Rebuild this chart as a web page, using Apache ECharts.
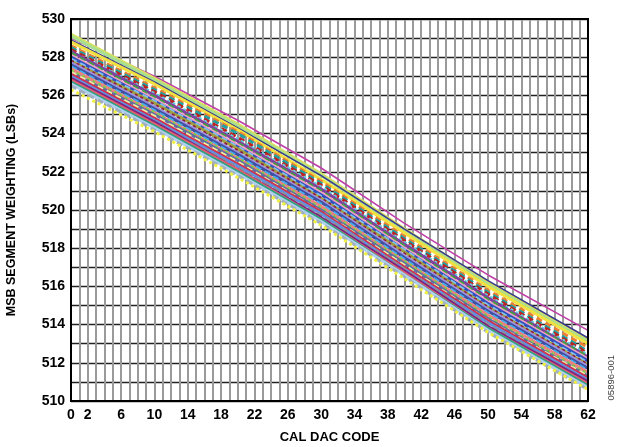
<!DOCTYPE html>
<html>
<head>
<meta charset="utf-8">
<script src="https://cdn.jsdelivr.net/npm/echarts@6/dist/echarts.min.js"></script>
<style>
html,body{margin:0;padding:0;background:#fff;}
#c{width:624px;height:447px;}
</style>
</head>
<body>
<div id="c"></div>
<script>
// CAL DAC codes at which values were read
var codes = [0, 10, 20, 30, 40, 50, 62];

var s01 = [529.0, 527.0, 524.7, 522.2, 519.3, 516.6, 513.7];
var s02 = [529.2, 526.9, 524.5, 521.9, 519.0, 516.2, 513.2];
var s03 = [529.1, 526.8, 524.4, 521.8, 518.9, 516.1, 513.1];
var s04 = [528.9, 526.7, 524.3, 521.8, 519.0, 516.3, 513.3];
var s05 = [528.8, 526.6, 524.2, 521.6, 518.8, 516.0, 513.0];
var s06 = [528.6, 526.4, 524.1, 521.5, 518.6, 515.8, 512.8];
var s07 = [528.5, 526.3, 524.0, 521.4, 518.5, 515.7, 512.6];
var s08 = [528.4, 526.2, 523.8, 521.3, 518.4, 515.6, 512.5];
var s09 = [528.3, 526.1, 523.7, 521.2, 518.3, 515.5, 512.4];
var s10 = [528.3, 526.0, 523.6, 521.1, 518.2, 515.4, 512.3];
var s11 = [528.2, 525.9, 523.5, 521.0, 518.1, 515.3, 512.3];
var s12 = [528.1, 525.8, 523.4, 520.9, 518.0, 515.2, 512.2];
var s13 = [528.0, 525.7, 523.3, 520.8, 517.9, 515.1, 512.1];
var s14 = [527.9, 525.7, 523.3, 520.7, 517.9, 515.0, 512.0];
var s15 = [527.8, 525.6, 523.2, 520.6, 517.8, 514.9, 511.9];
var s16 = [527.8, 525.5, 523.1, 520.6, 517.7, 514.9, 511.9];
var s17 = [527.7, 525.4, 523.0, 520.5, 517.6, 514.8, 511.8];
var s18 = [527.6, 525.3, 522.9, 520.4, 517.5, 514.7, 511.7];
var s19 = [527.5, 525.2, 522.8, 520.3, 517.4, 514.6, 511.6];
var s20 = [527.4, 525.1, 522.7, 520.2, 517.3, 514.5, 511.5];
var s21 = [527.3, 525.1, 522.7, 520.1, 517.3, 514.4, 511.4];
var s22 = [527.2, 525.0, 522.6, 520.0, 517.2, 514.3, 511.3];
var s23 = [527.2, 524.9, 522.5, 519.9, 517.1, 514.2, 511.3];
var s24 = [527.1, 524.8, 522.4, 519.9, 517.0, 514.2, 511.2];
var s25 = [527.0, 524.7, 522.3, 519.8, 516.9, 514.1, 511.1];
var s26 = [526.9, 524.6, 522.2, 519.7, 516.9, 514.0, 511.0];
var s27 = [526.9, 524.6, 522.1, 519.6, 516.8, 513.9, 511.0];
var s28 = [526.8, 524.5, 522.1, 519.5, 516.7, 513.8, 510.9];
var s29 = [526.7, 524.4, 522.0, 519.5, 516.6, 513.8, 510.8];
var s30 = [526.6, 524.3, 521.9, 519.4, 516.6, 513.7, 510.7];
var s31 = [526.5, 524.2, 521.8, 519.3, 516.5, 513.6, 510.6];
var s32 = [526.3, 524.1, 521.7, 519.2, 516.4, 513.6, 510.6];

var seriesData = [s01,s02,s03,s04,s05,s06,s07,s08,s09,s10,s11,s12,s13,s14,s15,s16,
                  s17,s18,s19,s20,s21,s22,s23,s24,s25,s26,s27,s28,s29,s30,s31,s32];
var seriesColors = ['#c040a8','#d8e060','#a8e090','#3a3a90','#f0e040','#f08030','#20a0a0','#c02020',
                    '#60d0e0','#8040a0','#40a040','#f0a0c0','#3050c0','#80c0f0','#a0a040','#902040',
                    '#a090e0','#4050a0','#40b0f0','#f08080','#80d040','#6070a0','#f0f0a0','#d03050',
                    '#6090e0','#909090','#802080','#e06070','#30a080','#b0d0f0','#a0b0c0','#f0f040'];
var seriesDash = ['solid','solid','solid','solid','solid','dashed','dashed','dashed',
                  'dotted','solid','dashed','solid','solid','dashed','solid','dotted',
                  'solid','solid','dashed','solid','dotted','solid','dashed','solid',
                  'solid','dashed','solid','solid','solid','solid','dashed','dotted'];

var yTickLabels = ['510','512','514','516','518','520','522','524','526','528','530'];
var xTickLabels = ['0','2','6','10','14','18','22','26','30','34','38','42','46','50','54','58','62'];

var FONT = 'Liberation Sans, Arial, sans-serif';

var series = seriesData.map(function (arr, i) {
  var thin = (i === 0 || i === 3);
  return {
    type: 'line',
    data: codes.map(function (c, j) { return [c, arr[j]]; }),
    showSymbol: false,
    symbol: 'none',
    lineStyle: {
      color: seriesColors[i],
      width: thin ? 1.6 : 3,
      type: seriesDash[i] === 'dashed' ? [6, 4] : (seriesDash[i] === 'dotted' ? [3, 3] : 'solid')
    },
    z: 3
  };
});

var chart = echarts.init(document.getElementById('c'), null, { renderer: 'canvas' });
chart.setOption({
  animation: false,
  backgroundColor: '#fff',
  grid: { left: 71, right: 36, top: 19, bottom: 46, outerBoundsMode: 'none', containLabel: false,
          show: true, borderColor: '#000', borderWidth: 2, backgroundColor: 'transparent', z: 5 },
  xAxis: {
    type: 'value', min: 0, max: 62, interval: 1,
    name: 'CAL DAC CODE', nameLocation: 'middle', nameGap: 30,
    nameTextStyle: { fontFamily: FONT, fontWeight: 'bold', fontSize: 13, color: '#000' },
    axisLine: { show: true, lineStyle: { color: '#000', width: 2 } },
    axisTick: { show: false },
    axisLabel: {
      fontFamily: FONT, fontWeight: 'bold', fontSize: 14, color: '#000', margin: 7,
      formatter: function (v) { var s = String(v); return xTickLabels.indexOf(s) >= 0 ? s : ''; }
    },
    splitLine: { show: true, lineStyle: { color: '#9a9a9a', width: 2 } }
  },
  yAxis: {
    type: 'value', min: 510, max: 530, interval: 1,
    name: 'MSB SEGMENT WEIGHTING (LSBs)', nameLocation: 'middle', nameGap: 53,
    nameTextStyle: { fontFamily: FONT, fontWeight: 'bold', fontSize: 12.5, color: '#000' },
    axisLine: { show: true, lineStyle: { color: '#000', width: 2 } },
    axisTick: { show: false },
    axisLabel: {
      fontFamily: FONT, fontWeight: 'bold', fontSize: 14, color: '#000', margin: 6,
      formatter: function (v) { var s = String(v); return yTickLabels.indexOf(s) >= 0 ? s : ''; }
    },
    splitLine: { show: true, lineStyle: { color: '#222', width: 1.3 } }
  },
  graphic: [{
    type: 'text', left: 606, top: 355, rotation: Math.PI / 2,
    style: { text: '05896-001', fontFamily: FONT, fontSize: 9.5, fill: '#444' }
  }],
  series: series
});
</script>
</body>
</html>
